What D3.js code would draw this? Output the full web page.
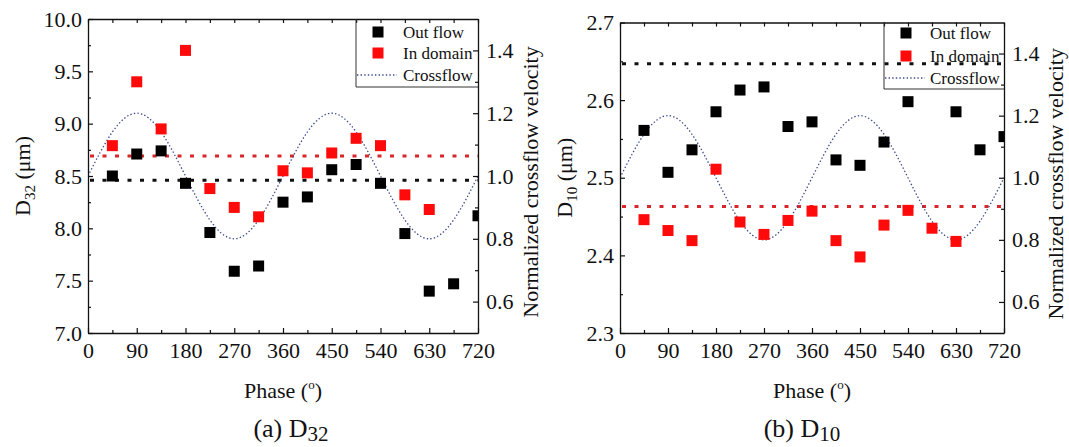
<!DOCTYPE html>
<html>
<head>
<meta charset="utf-8">
<script src="https://cdn.jsdelivr.net/npm/d3@7"></script>
<style>
    body { margin: 0; background: #fff; }
    svg text { font-family: "Liberation Serif", "Times New Roman", Tinos, "Nimbus Roman", "DejaVu Serif", serif; fill: #111; }
    .axis path, .axis line { stroke: #111; }
    .axis path { stroke-width: 1.3; }
    .axis line { stroke-width: 1.2; }
    .axis text { font-size: 22px; }
</style>
</head>
<body>
<svg id="chart" width="1069" height="447"></svg>
<script>
// phase sampling of the measurements (degrees)
const phases = [45, 90, 135, 180, 225, 270, 315, 360, 405, 450, 495, 540, 585, 630, 675, 720];
const xTicks = [0, 90, 180, 270, 360, 450, 540, 630, 720];

// panel (a) D32, um
const d32Outflow = [8.50, 8.71, 8.74, 8.43, 7.96, 7.59, 7.64, 8.25, 8.30, 8.56, 8.61, 8.43, 7.95, 7.40, 7.47, 8.12];
const d32Domain = [8.79, 9.40, 8.95, 9.70, 8.38, 8.20, 8.11, 8.55, 8.53, 8.72, 8.86, 8.79, 8.32, 8.18, null, null];
const d32MeanOutflow = 8.46;
const d32MeanDomain = 8.69;

// panel (b) D10, um
const d10Outflow = [2.561, 2.507, 2.536, 2.585, 2.613, 2.617, 2.566, 2.572, 2.523, 2.516, 2.546, 2.598, null, 2.585, 2.536, 2.553];
const d10Domain = [2.446, 2.432, 2.419, 2.511, 2.443, 2.427, 2.445, 2.457, 2.419, 2.398, 2.439, 2.458, 2.435, 2.418, null, null];
const d10MeanOutflow = 2.647;
const d10MeanDomain = 2.463;

// normalized crossflow velocity, read every 45 degrees
const flowPhase = [0, 45, 90, 135, 180, 225, 270, 315, 360, 405, 450, 495, 540, 585, 630, 675, 720];
const flowVelocity = [1.0, 1.14, 1.2, 1.14, 1.0, 0.86, 0.8, 0.86, 1.0, 1.14, 1.2, 1.14, 1.0, 0.86, 0.8, 0.86, 1.0];

const RED = '#ff0a0a';
const FLOW = '#3c4b8c';
const SQ = 11;

const svg = d3.select('#chart');

function drawPanel(p) {
    const x = d3.scaleLinear().domain([0, 720]).range([p.left, p.right]);
    const y = d3.scaleLinear().domain(p.yDomain).range([p.bottom, p.top]);
    const y2 = d3.scaleLinear().domain([0.5, 1.5]).range([p.bottom, p.top]);
    const g = svg.append('g');

    const clipId = 'clip-' + p.id;
    svg.append('clipPath').attr('id', clipId)
        .append('rect')
        .attr('x', p.left).attr('y', p.top)
        .attr('width', p.right - p.left).attr('height', p.bottom - p.top);

    // mean lines
    const means = [
        { v: p.meanDomain, c: '#d8262a' },
        { v: p.meanOut, c: '#111' }
    ];
    g.selectAll('.mean')
        .data(means)
        .enter().append('line')
        .attr('x1', p.left + 2).attr('x2', p.right)
        .attr('y1', d => y(d.v)).attr('y2', d => y(d.v))
        .attr('stroke', d => d.c)
        .attr('stroke-width', 3)
        .attr('stroke-dasharray', '4,8.5');

    // crossflow curve
    const line = d3.line()
        .x((d, i) => x(flowPhase[i]))
        .y(d => y2(d))
        .curve(d3.curveNatural);
    g.append('path')
        .datum(flowVelocity)
        .attr('clip-path', `url(#${clipId})`)
        .attr('d', line)
        .attr('fill', 'none')
        .attr('stroke', FLOW)
        .attr('stroke-width', 1.3)
        .attr('stroke-dasharray', '1.4,2.2');

    // squares
    const series = [
        { vals: p.outflow, c: '#000' },
        { vals: p.domain, c: RED }
    ];
    series.forEach(s => {
        const pts = phases.map((ph, i) => ({ ph, v: s.vals[i] })).filter(d => d.v != null);
        g.append('g').attr('clip-path', `url(#${clipId})`)
            .selectAll('rect')
            .data(pts)
            .enter().append('rect')
            .attr('x', d => x(d.ph) - SQ / 2)
            .attr('y', d => y(d.v) - SQ / 2)
            .attr('width', SQ).attr('height', SQ)
            .attr('fill', s.c);
    });

    // axes, ticks pointing inward
    g.append('g').attr('class', 'axis')
        .attr('transform', `translate(0,${p.bottom})`)
        .call(d3.axisBottom(x).tickValues(xTicks).tickFormat(d3.format('d'))
            .tickSizeInner(-5).tickSizeOuter(0).tickPadding(9.5));
    g.append('g').attr('class', 'axis')
        .attr('transform', `translate(0,${p.bottom})`)
        .call(d3.axisBottom(x).tickValues(xTicks.slice(0, -1).map(d => d + 45))
            .tickFormat('').tickSizeInner(-3).tickSizeOuter(0))
        .select('.domain').remove();
    g.append('g').attr('class', 'axis')
        .attr('transform', `translate(0,${p.top})`)
        .call(d3.axisTop(x).tickValues(d3.range(0, 721, 45)).tickFormat('')
            .tickSize(-4).tickSizeOuter(0));

    g.append('g').attr('class', 'axis')
        .attr('transform', `translate(${p.left},0)`)
        .call(d3.axisLeft(y).tickValues(p.yTicks).tickFormat(d3.format('.1f'))
            .tickSizeInner(-5).tickSizeOuter(0).tickPadding(6));
    g.append('g').attr('class', 'axis')
        .attr('transform', `translate(${p.left},0)`)
        .call(d3.axisLeft(y).tickValues(p.yMinor).tickFormat('')
            .tickSizeInner(-3).tickSizeOuter(0))
        .select('.domain').remove();

    g.append('g').attr('class', 'axis')
        .attr('transform', `translate(${p.right},0)`)
        .call(d3.axisRight(y2).tickValues([0.6, 0.8, 1.0, 1.2, 1.4]).tickFormat(d3.format('.1f'))
            .tickSizeInner(-5).tickSizeOuter(0).tickPadding(8));
    g.append('g').attr('class', 'axis')
        .attr('transform', `translate(${p.right},0)`)
        .call(d3.axisRight(y2).tickValues([0.7, 0.9, 1.1, 1.3]).tickFormat('')
            .tickSizeInner(-3).tickSizeOuter(0))
        .select('.domain').remove();

    // legend
    const lg = g.append('g');
    lg.append('path')
        .attr('d', `M${p.right},${p.legBottom}H${p.legLeft}V${p.top}`)
        .attr('fill', 'none').attr('stroke', '#333').attr('stroke-width', 1);
    const entries = [
        { label: 'Out flow', c: '#000', type: 'sq' },
        { label: 'In domain', c: RED, type: 'sq' },
        { label: 'Crossflow', c: FLOW, type: 'line' }
    ];
    entries.forEach((e, i) => {
        const ly = p.legY[i];
        if (e.type === 'sq') {
            lg.append('rect')
                .attr('x', p.legMark - SQ / 2).attr('y', ly - SQ / 2)
                .attr('width', SQ).attr('height', SQ).attr('fill', e.c);
        } else {
            lg.append('line')
                .attr('x1', p.legMark - 21).attr('x2', p.legMark + 19)
                .attr('y1', ly).attr('y2', ly)
                .attr('stroke', e.c).attr('stroke-width', 1.3)
                .attr('stroke-dasharray', '1.4,2.2');
        }
        lg.append('text')
            .attr('clip-path', `url(#${clipId})`)
            .attr('x', p.legText).attr('y', ly).attr('dy', '0.34em')
            .style('font-size', '17px')
            .text(e.label);
    });

    // axis titles
    const midY = (p.top + p.bottom) / 2;
    const yl = g.append('text')
        .attr('transform', `translate(${p.left - p.yTitleOff},${midY}) rotate(-90)`)
        .attr('text-anchor', 'middle')
        .style('font-size', '22px');
    yl.append('tspan').text('D');
    yl.append('tspan').text(p.sub).style('font-size', '15px').attr('dy', 5);
    yl.append('tspan').text(' (\u03bcm)').attr('dy', -5);

    g.append('text')
        .attr('transform', `translate(${p.right + p.y2TitleOff},${midY + 6}) rotate(-90)`)
        .attr('text-anchor', 'middle')
        .style('font-size', '22px')
        .text('Normalized crossflow velocity');

    const xl = g.append('text')
        .attr('x', (p.left + p.right) / 2).attr('y', 398)
        .attr('text-anchor', 'middle')
        .style('font-size', '22px');
    xl.append('tspan').text('Phase (');
    xl.append('tspan').text('o').style('font-size', '13px').attr('dy', -9);
    xl.append('tspan').text(')').attr('dy', 9);

    const cap = g.append('text')
        .attr('x', p.capX).attr('y', 437)
        .attr('text-anchor', 'middle')
        .style('font-size', '26px');
    cap.append('tspan').text(`(${p.id}) D`);
    cap.append('tspan').text(p.sub).style('font-size', '21px').attr('dy', 4);
}

drawPanel({
    id: 'a', sub: '32',
    left: 88, right: 478, top: 19, bottom: 333,
    yDomain: [7, 10], yTicks: d3.range(7, 10.01, 0.5), yMinor: d3.range(7.25, 10, 0.5),
    outflow: d32Outflow, domain: d32Domain,
    meanOut: d32MeanOutflow, meanDomain: d32MeanDomain,
    legLeft: 356, legBottom: 87, legMark: 378, legText: 403, legY: [32, 53, 75],
    capX: 291, yTitleOff: 58, y2TitleOff: 60
});

drawPanel({
    id: 'b', sub: '10',
    left: 620, right: 1004, top: 22.5, bottom: 333,
    yDomain: [2.3, 2.7], yTicks: [2.3, 2.4, 2.5, 2.6, 2.7], yMinor: [2.35, 2.45, 2.55, 2.65],
    outflow: d10Outflow, domain: d10Domain,
    meanOut: d10MeanOutflow, meanDomain: d10MeanDomain,
    legLeft: 884, legBottom: 89, legMark: 906, legText: 930, legY: [33, 56, 78],
    capX: 802, yTitleOff: 48, y2TitleOff: 59
});
</script>
</body>
</html>
